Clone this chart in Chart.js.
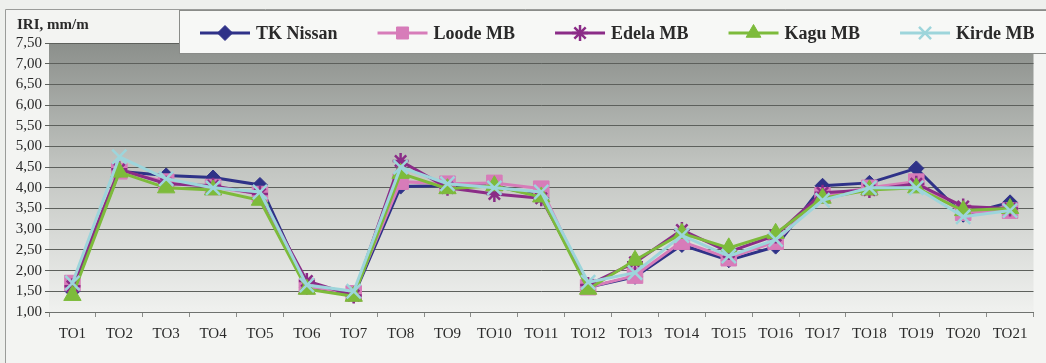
<!DOCTYPE html>
<html><head><meta charset="utf-8">
<script src="https://cdn.jsdelivr.net/npm/chart.js@4.4.1/dist/chart.umd.min.js"></script>
<style>html,body{margin:0;padding:0;background:#eef0ed;}canvas{display:block}</style>
</head><body>
<canvas id="c" width="1046" height="363"></canvas>
<script>
const categories = ['TO1','TO2','TO3','TO4','TO5','TO6','TO7','TO8','TO9','TO10','TO11','TO12','TO13','TO14','TO15','TO16','TO17','TO18','TO19','TO20','TO21'];
const tkNissan = [1.50,4.40,4.30,4.25,4.07,1.60,1.40,4.03,4.05,4.05,3.80,1.60,1.85,2.62,2.25,2.58,4.05,4.12,4.47,3.35,3.65];
const loodeMB  = [1.70,4.40,4.15,4.02,3.85,1.62,1.45,4.15,4.10,4.12,3.98,1.60,1.88,2.70,2.30,2.70,3.82,4.00,4.15,3.40,3.45];
const edelaMB  = [1.62,4.45,4.10,4.05,3.85,1.75,1.40,4.65,4.00,3.85,3.75,1.65,2.20,2.98,2.45,2.85,3.88,3.95,4.10,3.55,3.50];
const kaguMB   = [1.40,4.38,4.00,3.95,3.70,1.55,1.38,4.35,3.98,4.05,3.78,1.55,2.25,2.90,2.55,2.90,3.75,3.95,4.00,3.45,3.50];
const kirdeMB  = [1.70,4.75,4.22,4.00,3.90,1.65,1.50,4.50,4.10,4.00,3.90,1.72,1.95,2.85,2.35,2.75,3.70,4.00,4.00,3.30,3.45];
const seriesNames = ['TK Nissan','Loode MB','Edela MB','Kagu MB','Kirde MB'];
const yMin = 1.0, yMax = 7.5, yStep = 0.5;
const yTitle = 'IRI, mm/m';

const SERIF = "'Liberation Serif', 'DejaVu Serif', serif";
const styles = [
  {c:'#2f3288', ps:'rectRot', r:7.5, bw:1, ord:5},
  {c:'#d77cb9', ps:'rect', r:11, bw:1, ord:4},
  {c:'#8b2c87', ps:'star', r:8, bw:2.5, ord:3},
  {c:'#7dbb3b', ps:'triangle', r:10, bw:1, ord:2},
  {c:'#9dd5db', ps:'crossRot', r:10, bw:2.5, ord:1}
];
const values = [tkNissan, loodeMB, edelaMB, kaguMB, kirdeMB];
const datasets = values.map((v,i)=>({
  label: seriesNames[i], data: v,
  borderColor: styles[i].c, backgroundColor: styles[i].c,
  pointBackgroundColor: styles[i].c, pointBorderColor: styles[i].c,
  pointStyle: styles[i].ps, pointRadius: styles[i].r, pointBorderWidth: styles[i].bw,
  borderWidth: 3, tension: 0, order: styles[i].ord, fill:false
}));

const decor = {
  id:'decor',
  beforeDraw(chart){
    const {ctx, chartArea:a} = chart;
    ctx.save();
    ctx.fillStyle = '#eef0ed';
    ctx.fillRect(0,0,chart.width,chart.height);
    ctx.fillStyle = '#f3f4f2';
    ctx.fillRect(5.5,9.5,chart.width,chart.height);
    ctx.strokeStyle = '#9a9c99'; ctx.lineWidth = 1;
    ctx.beginPath(); ctx.moveTo(5.5,chart.height); ctx.lineTo(5.5,9.5); ctx.lineTo(chart.width,9.5); ctx.stroke();
    const g = ctx.createLinearGradient(0,a.top,0,a.bottom);
    g.addColorStop(0,'#8b8f8b');
    g.addColorStop(0.45,'#c1c4c0');
    g.addColorStop(1,'#f0f1ef');
    ctx.fillStyle = g;
    ctx.fillRect(a.left,a.top,a.right-a.left,a.bottom-a.top);
    ctx.restore();
  },
  afterDraw(chart){
    const {ctx} = chart;
    ctx.save();
    ctx.fillStyle = '#2a2a2a';
    ctx.font = 'bold 15px ' + SERIF;
    ctx.textBaseline = 'middle'; ctx.textAlign = 'left';
    ctx.fillText(yTitle, 17, 25);
    // legend box
    ctx.fillStyle = '#f7f8f6';
    ctx.fillRect(179.5,10.5,chart.width,43);
    ctx.strokeStyle = '#8a8c89'; ctx.lineWidth = 1;
    ctx.strokeRect(179.5,10.5,chart.width,43);
    ctx.font = 'bold 18px ' + SERIF;
    let x = 200; const y = 33;
    chart.data.datasets.forEach((ds,i)=>{
      ctx.strokeStyle = ds.borderColor; ctx.lineWidth = 3;
      ctx.beginPath(); ctx.moveTo(x,y); ctx.lineTo(x+50,y); ctx.stroke();
      ctx.fillStyle = ds.pointBackgroundColor; ctx.strokeStyle = ds.pointBorderColor;
      ctx.lineWidth = ds.pointBorderWidth;
      Chart.helpers.drawPoint(ctx, {pointStyle: ds.pointStyle, radius: Math.min(ds.pointRadius, 8.5), borderWidth: ds.pointBorderWidth, rotation:0}, x+25, y);
      ctx.fillStyle = '#2a2a2a';
      ctx.fillText(ds.label, x+56, y+1);
      x += 56 + ctx.measureText(ds.label).width + 40;
    });
    ctx.restore();
  }
};

new Chart(document.getElementById('c'), {
  type:'line',
  data:{labels: categories, datasets},
  options:{
    responsive:false, animation:false, devicePixelRatio:1,
    layout:{padding:{top:43,right:0,bottom:0,left:0}},
    plugins:{legend:{display:false}, tooltip:{enabled:false}},
    scales:{
      x:{
        offset:true,
        grid:{display:true, drawOnChartArea:false, drawTicks:true, tickLength:5, color:'#8a8c89', offset:true},
        border:{display:true, color:'#6f726f'},
        ticks:{font:{family:SERIF,size:15}, color:'#2a2a2a', padding:8, maxRotation:0, autoSkip:false},
        afterFit(s){ s.height = 51; }
      },
      y:{
        min:yMin, max:yMax,
        grid:{color:'#5d605c', lineWidth:1, tickLength:4, drawTicks:true},
        border:{display:false},
        ticks:{stepSize:yStep, autoSkip:false, font:{family:SERIF,size:15}, color:'#2a2a2a', padding:3,
          callback:(v)=>Number(v).toFixed(2).replace('.',',')},
        afterFit(s){ s.width = 49; }
      }
    }
  },
  plugins:[decor]
});
</script>
</body></html>
